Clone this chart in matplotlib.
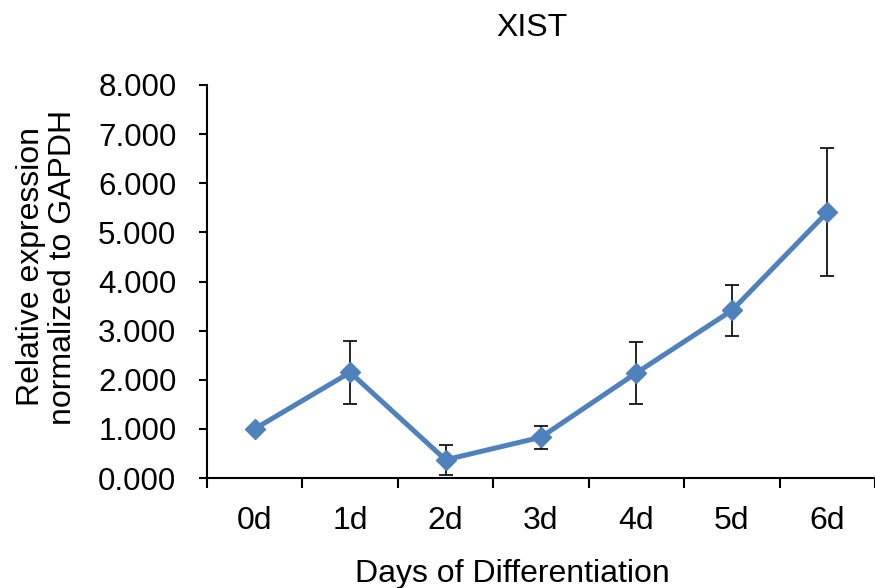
import numpy as np
import matplotlib
matplotlib.use("Agg")
import matplotlib.pyplot as plt

plt.rcParams['font.family'] = ['Liberation Sans', 'DejaVu Sans']

# data
days = ['0d', '1d', '2d', '3d', '4d', '5d', '6d']
expr = [1.00, 2.15, 0.37, 0.83, 2.14, 3.41, 5.41]
err = [0.0, 0.64, 0.30, 0.23, 0.63, 0.51, 1.30]

blue = '#4F81BD'

fig = plt.figure(figsize=(8.75, 5.88), dpi=100)
ax = fig.add_axes([207/875, 1 - 478/588, 1 - 207/875, (478 - 85)/588])

x = np.arange(len(days))
ax.errorbar(x, expr, yerr=err, fmt='none', ecolor='black', elinewidth=1.2,
            capsize=5, capthick=1.2, zorder=2)
ax.plot(x, expr, color=blue, lw=3.6, marker='D', ms=10, zorder=3)

ax.set_ylim(0, 8)
ax.set_yticks(np.arange(0, 9, 1))
ax.set_yticklabels([f'{v:.3f}' for v in range(9)])
ax.set_xlim(-0.5, 6.43)
ax.set_xticks(np.arange(-0.5, 7, 1))
ax.set_xticklabels([])
ax.set_xticks(x, minor=True)
ax.set_xticklabels(days, minor=True)

ax.tick_params(axis='y', direction='out', length=6, width=1.5, labelsize=22.5, pad=16)
ax.tick_params(axis='x', which='major', direction='out', length=7, width=1.5)
ax.tick_params(axis='x', which='minor', length=0, labelsize=23, pad=20)

for s in ['top', 'right']:
    ax.spines[s].set_visible(False)
for s in ['left', 'bottom']:
    ax.spines[s].set_linewidth(1.5)

fig.text(532/875, 1 - 28/588, 'XIST', ha='center', va='center', fontsize=23)
fig.text(512/875, 1 - 574/588, 'Days of Differentiation', ha='center', va='center', fontsize=23)
fig.text(47/875, 1 - 267/588, 'Relative expression\nnormalized to GAPDH', ha='center', va='center',
         rotation=90, fontsize=23, linespacing=1.08)

fig.savefig('out.png', dpi=100)
